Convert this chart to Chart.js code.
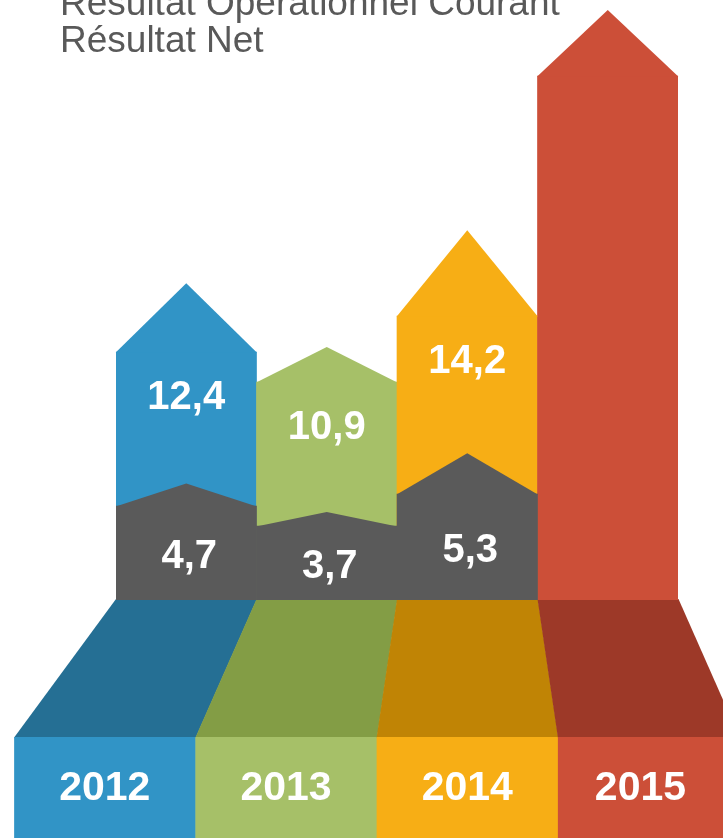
<!DOCTYPE html>
<html lang="fr">
<head>
<meta charset="utf-8">
<title>Résultats 2012-2015</title>
<script src="https://cdn.jsdelivr.net/npm/chart.js@4/dist/chart.umd.min.js"></script>
<style>
    html, body { margin: 0; padding: 0; background: #ffffff; }
    #conteneur { width: 723px; height: 838px; position: relative; }
</style>
</head>
<body>
<div id="conteneur"><canvas id="graphique-resultats"></canvas></div>
<script>
// Données (en M€)
const annees = ["2012", "2013", "2014", "2015"]
const resultatOperationnel = [12.4, 10.9, 14.2, 26.2] // 2015 sans étiquette : valeur estimée à la hauteur de la barre
const resultatNet = [4.7, 3.7, 5.3, null]
const etiquettesOperationnel = ["12,4", "10,9", "14,2", ""]
const etiquettesNet = ["4,7", "3,7", "5,3", ""]
const libellesLegende = ["Résultat Opérationnel Courant", "Résultat Net"]

// Couleurs de chaque année (face avant / face en perspective)
const couleurs = ["#3194c6", "#a6c068", "#f7ae15", "#cc4f38"]
const couleursSombres = ["#256f94", "#839d45", "#c08405", "#9d3928"]
const gris = "#5a5a5a"
// hauteur de la pointe de flèche en proportion de la largeur de la barre
const pointesOperationnel = [0.49, 0.25, 0.61, 0.47]
const pointesNet = [0.16, 0.10, 0.29, 0]

const policeChiffres = "bold 40px Arial, 'Liberation Sans', sans-serif"

//Dessine la pointe de flèche au dessus de chaque barre
const pointesFleches = {
    id: "pointesFleches",
    afterDatasetDraw(chart, args) {
        const ctx = chart.ctx
        const ratios = args.index === 0 ? pointesOperationnel : pointesNet
        const dataset = chart.data.datasets[args.index]
        args.meta.data.forEach((barre, i) => {
            if (dataset.data[i] === null) return
            const p = barre.getProps(["x", "y", "width"], true)
            const gauche = p.x - p.width / 2
            const droite = p.x + p.width / 2
            const h = p.width * ratios[i]
            if (h <= 0) return
            ctx.save()
            ctx.fillStyle = Array.isArray(dataset.backgroundColor) ? dataset.backgroundColor[i] : dataset.backgroundColor
            ctx.beginPath()
            ctx.moveTo(gauche - 0.3, p.y + 0.5)
            ctx.lineTo(p.x, p.y - h)
            ctx.lineTo(droite + 0.3, p.y + 0.5)
            ctx.closePath()
            ctx.fill()
            ctx.restore()
        })
    }
}

//Socle en perspective + cases des années sous le graphique
const socle = {
    id: "socle",
    beforeDatasetsDraw(chart) {
        const ctx = chart.ctx
        const x = chart.scales.x
        const base = chart.chartArea.bottom
        const largeur = x.getPixelForValue(1) - x.getPixelForValue(0)
        const centre = x.getPixelForValue(2) // point de fuite
        const ecart = 1.29
        const hautCase = base + 137
        const basCase = chart.height
        const proj = v => centre + (v - centre) * ecart
        annees.forEach((annee, i) => {
            const g = x.getPixelForValue(i) - largeur / 2
            const d = x.getPixelForValue(i) + largeur / 2
            ctx.fillStyle = couleursSombres[i]
            ctx.beginPath()
            ctx.moveTo(g, base - 1)
            ctx.lineTo(d + 0.5, base - 1)
            ctx.lineTo(proj(d) + 0.5, hautCase + 0.5)
            ctx.lineTo(proj(g), hautCase + 0.5)
            ctx.closePath()
            ctx.fill()
            ctx.fillStyle = couleurs[i]
            ctx.fillRect(proj(g), hautCase, proj(d) - proj(g) + 0.5, basCase - hautCase)
        })
    },
    afterDraw(chart) {
        const ctx = chart.ctx
        const x = chart.scales.x
        const largeur = x.getPixelForValue(1) - x.getPixelForValue(0)
        const centre = x.getPixelForValue(2)
        const proj = v => centre + (v - centre) * 1.29
        ctx.save()
        ctx.fillStyle = "#ffffff"
        ctx.font = "bold 41px Arial, 'Liberation Sans', sans-serif"
        ctx.textAlign = "center"
        ctx.textBaseline = "middle"
        annees.forEach((annee, i) => {
            const g = proj(x.getPixelForValue(i) - largeur / 2)
            const d = Math.min(proj(x.getPixelForValue(i) + largeur / 2), chart.width)
            ctx.fillText(annee, (g + d) / 2, chart.chartArea.bottom + 189)
        })
        ctx.restore()
    }
}

//Étiquettes des valeurs dans les barres + légende en haut à gauche
const etiquettes = {
    id: "etiquettes",
    afterDatasetsDraw(chart) {
        const ctx = chart.ctx
        const base = chart.chartArea.bottom
        const metaROC = chart.getDatasetMeta(0)
        const metaRN = chart.getDatasetMeta(1)
        ctx.save()
        ctx.fillStyle = "#ffffff"
        ctx.font = policeChiffres
        ctx.textAlign = "center"
        ctx.textBaseline = "middle"
        annees.forEach((annee, i) => {
            const roc = metaROC.data[i].getProps(["x", "y"], true)
            if (etiquettesOperationnel[i]) ctx.fillText(etiquettesOperationnel[i], roc.x, roc.y + 46)
            if (resultatNet[i] !== null) {
                const rn = metaRN.data[i].getProps(["x", "y"], true)
                ctx.fillText(etiquettesNet[i], rn.x + 3, (rn.y + base) / 2 + 4)
            }
        })
        ctx.fillStyle = "#595959"
        ctx.font = "37px Arial, 'Liberation Sans', sans-serif"
        ctx.textAlign = "left"
        ctx.textBaseline = "alphabetic"
        ctx.fillText(libellesLegende[0], 60, 15)
        ctx.fillText(libellesLegende[1], 60, 52)
        ctx.restore()
    }
}

const data = {
    labels: annees,
    datasets: [{
        label: libellesLegende[0],
        data: resultatOperationnel,
        backgroundColor: couleurs,
        order: 2
    }, {
        label: libellesLegende[1],
        data: resultatNet,
        backgroundColor: gris,
        order: 1
    }]
}

const config = {
    type: "bar",
    data: data,
    options: {
        responsive: true,
        maintainAspectRatio: false,
        animation: false,
        layout: { padding: { left: 116, right: 45, top: 0, bottom: 238 } },
        datasets: {
            bar: { grouped: false, barPercentage: 1, categoryPercentage: 1, borderWidth: 0 }
        },
        scales: {
            x: { display: false },
            y: { display: false, min: 0, max: 30 }
        },
        plugins: {
            legend: { display: false },
            tooltip: { enabled: false }
        }
    },
    plugins: [socle, pointesFleches, etiquettes]
}

const graphique = new Chart(document.querySelector("#graphique-resultats"), config)
</script>
</body>
</html>
